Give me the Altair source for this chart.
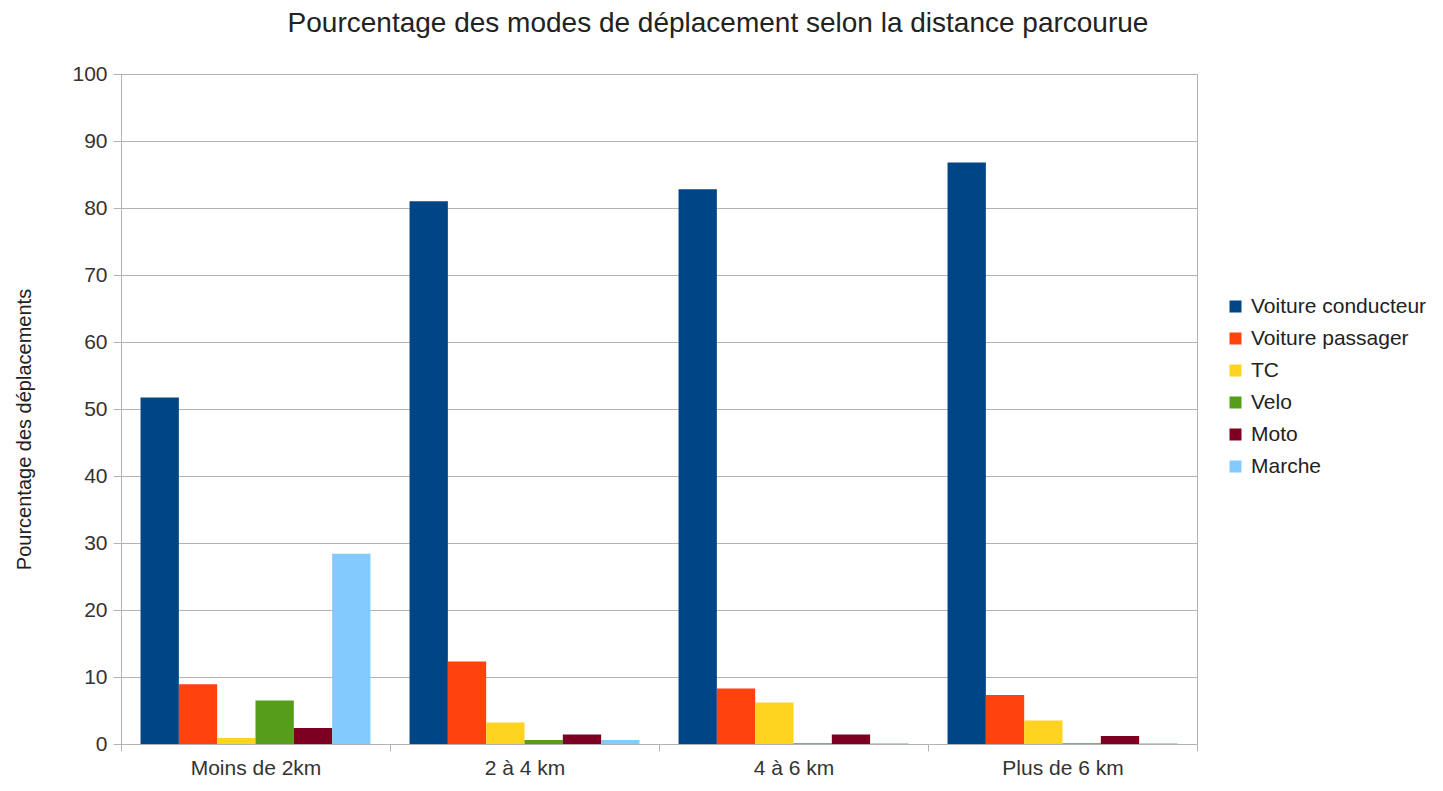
import altair as alt
import pandas as pd

categories = ["Moins de 2km", "2 à 4 km", "4 à 6 km", "Plus de 6 km"]
modes = ["Voiture conducteur", "Voiture passager", "TC", "Velo", "Moto", "Marche"]
colors = ["#004586", "#ff420e", "#ffd320", "#579d1c", "#7e0021", "#83caff"]

voiture_conducteur = [51.7, 81.0, 82.8, 86.8]
voiture_passager = [8.9, 12.3, 8.3, 7.3]
tc = [0.9, 3.2, 6.2, 3.5]
velo = [6.5, 0.6, 0.1, 0.1]
moto = [2.4, 1.4, 1.4, 1.2]
marche = [28.4, 0.6, 0.1, 0.1]

series = [voiture_conducteur, voiture_passager, tc, velo, moto, marche]
rows = []
for mode, vals in zip(modes, series):
    for cat, v in zip(categories, vals):
        rows.append({"Distance": cat, "Mode": mode, "Valeur": v})
df = pd.DataFrame(rows)

FONT = "Liberation Sans"

chart = alt.Chart(df).mark_bar().encode(
    x=alt.X("Distance:N", sort=categories,
            scale=alt.Scale(paddingInner=0, paddingOuter=0),
            axis=alt.Axis(title=None, labelAngle=0, tickBand="extent", tickSize=7,
                          labelPadding=6, labelFontSize=21, labelFont=FONT,
                          labelColor="#333333", domainColor="#b3b3b3",
                          tickColor="#b3b3b3", grid=False)),
    xOffset=alt.XOffset("Mode:N", sort=modes,
                        scale=alt.Scale(paddingInner=0, paddingOuter=0.51)),
    y=alt.Y("Valeur:Q", scale=alt.Scale(domain=[0, 100]),
            axis=alt.Axis(title="Pourcentage des déplacements", values=list(range(0, 101, 10)),
                          tickSize=8, labelPadding=6, labelFontSize=21, labelFont=FONT,
                          labelColor="#333333", titleFont=FONT, titleFontSize=20,
                          titleFontWeight="normal", titleColor="#222222",
                          titleX=-97, titleY=355, titleAlign="center", titleBaseline="middle",
                          titleAngle=-90,
                          gridColor="#b3b3b3", domainColor="#b3b3b3", tickColor="#b3b3b3")),
    color=alt.Color("Mode:N", sort=modes, scale=alt.Scale(domain=modes, range=colors),
                    legend=alt.Legend(title=None, orient="none", legendX=1104, legendY=222,
                                      symbolType="square", symbolSize=144,
                                      symbolStrokeWidth=0, labelFontSize=21,
                                      labelFont=FONT, labelColor="#222222", labelLimit=400,
                                      labelOffset=5, rowPadding=10)),
).properties(
    width=1076,
    height=670,
    title=alt.TitleParams("Pourcentage des modes de déplacement selon la distance parcourue",
                          font=FONT, fontSize=28, fontWeight="normal", color="#222222",
                          anchor="middle", dx=59, offset=25),
    autosize=alt.AutoSizeParams(type="none"),
    padding={"left": 113, "top": 66, "right": 230, "bottom": 35},
).configure_view(stroke="#b3b3b3", strokeWidth=1)

chart.save("out.html", embed_options={"renderer": "svg", "actions": False})
